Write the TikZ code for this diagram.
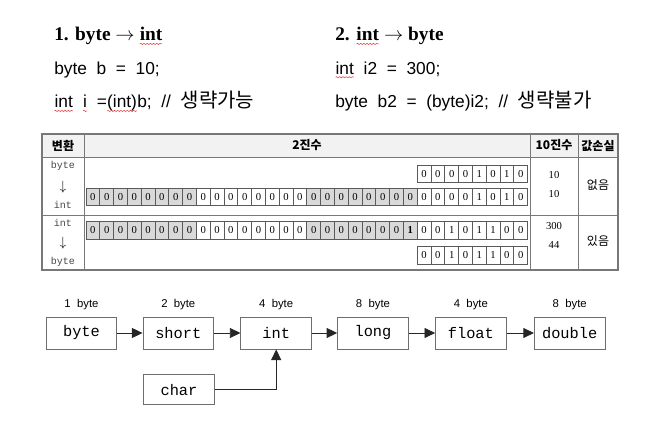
\documentclass[tikz,border=0pt]{standalone}
\usepackage{fontspec}
\setmainfont{Liberation Serif}
\setsansfont{Liberation Sans}[WordSpace=2]
\setmonofont{Liberation Mono}
\newfontfamily\kor{Noto Sans CJK KR}
\usepackage{tikz}
\usetikzlibrary{arrows.meta,positioning,decorations.pathmorphing}
\definecolor{tableline}{RGB}{120,120,120}
\definecolor{headfill}{RGB}{242,242,242}
\definecolor{bitgrey}{RGB}{217,217,217}
\definecolor{bitline}{RGB}{90,90,90}
\definecolor{typeline}{RGB}{110,110,110}
\definecolor{typetext}{RGB}{70,70,70}
\definecolor{spellred}{RGB}{230,60,60}

\tikzset{spellmark/.style={draw=spellred,line width=0.4pt,decorate,decoration={snake,amplitude=0.45pt,segment length=2.4pt}}}
\newcommand\wavy[1]{\tikz[baseline=(sq.base)]{\node[inner sep=0pt,outer sep=0pt] (sq) {#1};\draw[spellmark] ([yshift=-2.2pt]sq.base west) -- ([yshift=-2.2pt]sq.base east);}}
\newcommand\korcode[1]{{\kor\fontsize{15}{16}\selectfont #1}}

\begin{document}
\begin{tikzpicture}[x=0.75pt,y=-0.75pt,
  headline/.style={anchor=base west,inner sep=0pt,font=\bfseries\fontsize{14.5}{16}\selectfont},
  codeline/.style={anchor=base west,inner sep=0pt,font=\sffamily\fontsize{13}{15}\selectfont},
  tablerule/.style={draw=tableline,line width=0.6pt},
  tableframe/.style={draw=tableline,line width=1.1pt},
  headtext/.style={font=\kor\bfseries\fontsize{9}{10}\selectfont},
  convtext/.style={font=\ttfamily\fontsize{7.5}{8}\selectfont,text=typetext,inner sep=0pt},
  numtext/.style={font=\fontsize{8}{9}\selectfont},
  losstext/.style={font=\kor\fontsize{9}{10}\selectfont},
  bitcell/.style={draw=bitline,line width=0.5pt,minimum width=10.35pt,minimum height=12.9pt,inner sep=0pt,font=\fontsize{8}{9}\selectfont},
  typebox/.style={draw=typeline,fill=white,line width=0.6pt,minimum width=53pt,minimum height=24pt,font=\ttfamily\fontsize{11.5}{12}\selectfont},
  sizelabel/.style={font=\sffamily\fontsize{8.5}{9}\selectfont},
  arr/.style={-{Triangle[length=8pt,width=7.5pt]},draw=black!85,line width=0.7pt}]
\useasboundingbox (0,0) rectangle (658,441);

% code lines
\node[headline] (h1) at (54,41) {1. byte $\rightarrow$ \wavy{int}};
\node[codeline] (c1) at (54,74.3) {byte b = 10;};
\node[codeline] (c2) at (54,108) {\wavy{int} \wavy{i} =\wavy{(int)}b; // \korcode{생략가능}};

\node[headline] (h2) at (335,41) {2. \wavy{int} $\rightarrow$ byte};
\node[codeline] (c3) at (335,74.3) {\wavy{int} i2 = 300;};
\node[codeline] (c4) at (335,108) {byte b2 = (byte)i2; // \korcode{생략불가}};

% table
\fill[headfill] (42,134) rectangle (618,157);
\draw[tablerule] (42,157) -- (618,157);
\draw[tablerule] (42,215) -- (618,215);
\draw[tablerule] (84,134) -- (84,270);
\draw[tablerule] (530,134) -- (530,270);
\draw[tablerule] (578,134) -- (578,270);
\draw[tableframe] (42,134) rectangle (618,270);

\node[headtext] (hconv) at (63,145.5) {변환};
\node[headtext] (hbin) at (307,145.5) {2진수};
\node[headtext] (hdec) at (554,145.5) {10진수};
\node[headtext] (hloss) at (598,145.5) {값손실};

\node[convtext] (fromA) at (63,165.7) {byte};
\node[inner sep=0pt] (downA) at (63,187) {$\downarrow$};
\node[convtext] (toA) at (63,205) {int};
\node[convtext] (fromB) at (63,223) {int};
\node[inner sep=0pt] (downB) at (63,243) {$\downarrow$};
\node[convtext] (toB) at (63,261.7) {byte};

\node[numtext] (decA) at (554,175) {10};
\node[numtext] (decB) at (554,194.5) {10};
\node[numtext] (decC) at (554,226) {300};
\node[numtext] (decD) at (554,244.5) {44};
\node[losstext] (lossA) at (598,185) {없음};
\node[losstext] (lossB) at (598,240.5) {있음};

% bits
\begin{scope}[shift={(417.2,173.7)}]
\foreach \b [count=\i from 0] in {0,0,0,0,1,0,1,0}
  \node[bitcell] (src-\i) at (\i*13.8+6.9,0) {\b};
\end{scope}

\begin{scope}[shift={(86,197)}]
\foreach \b [count=\i from 0] in {0,0,0,0,0,0,0,0,0,0,0,0,0,0,0,0,0,0,0,0,0,0,0,0,0,0,0,0,1,0,1,0}{
  \pgfmathtruncatemacro\grp{\i/8}
  \ifodd\grp
    \node[bitcell] (ext-\i) at (\i*13.8+6.9,0) {\b};
  \else
    \node[bitcell,fill=bitgrey] (ext-\i) at (\i*13.8+6.9,0) {\b};
  \fi}
\end{scope}

\begin{scope}[shift={(86,230.3)}]
\foreach \b [count=\i from 0] in {0,0,0,0,0,0,0,0,0,0,0,0,0,0,0,0,0,0,0,0,0,0,0,{\textbf{1}},0,0,1,0,1,1,0,0}{
  \pgfmathtruncatemacro\grp{\i/8}
  \ifodd\grp
    \node[bitcell] (full-\i) at (\i*13.8+6.9,0) {\b};
  \else
    \node[bitcell,fill=bitgrey] (full-\i) at (\i*13.8+6.9,0) {\b};
  \fi}
\end{scope}

\begin{scope}[shift={(417.2,255.3)}]
\foreach \b [count=\i from 0] in {0,0,1,0,1,1,0,0}
  \node[bitcell] (cut-\i) at (\i*13.8+6.9,0) {\b};
\end{scope}

% widening chain
\node[typebox] (byte) at (81.5,333) {byte};
\node[typebox] (short) at (178.3,333) {short};
\node[typebox] (int) at (276.2,333) {int};
\node[typebox] (long) at (373,333) {long};
\node[typebox] (float) at (470.9,333) {float};
\node[typebox] (double) at (569.7,333) {double};
\node[typebox,minimum height=22.5pt] (char) at (179,389.6) {char};

\node[sizelabel] (szbyte) at (81.5,304.6) {1 byte};
\node[sizelabel] (szshort) at (178.3,304.6) {2 byte};
\node[sizelabel] (szint) at (276.2,304.6) {4 byte};
\node[sizelabel] (szlong) at (373,304.6) {8 byte};
\node[sizelabel] (szfloat) at (470.9,304.6) {4 byte};
\node[sizelabel] (szdouble) at (569.7,304.6) {8 byte};

\draw[arr] (byte) -- (short);
\draw[arr] (short) -- (int);
\draw[arr] (int) -- (long);
\draw[arr] (long) -- (float);
\draw[arr] (float) -- (double);
\draw[arr] (char.east) -| (int.south);

\end{tikzpicture}
\end{document}
